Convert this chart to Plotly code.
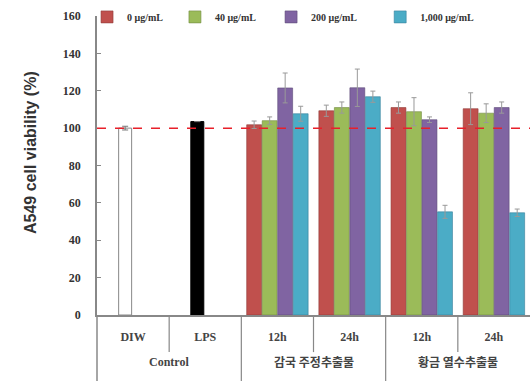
import plotly.graph_objects as go

outer = ["Control", "Control", "감국 주정추출물", "감국 주정추출물", "황금 열수추출물", "황금 열수추출물"]
inner = ["DIW", "LPS", "12h", "24h", "12h", "24h"]
pos = list(range(len(inner)))

control_vals = [100, 103.5]
control_err = [1.0, 0]

series_names = ["0 μg/mL", "40 μg/mL", "200 μg/mL", "1,000 μg/mL"]
series_colors = ["#C0504D", "#9BBB59", "#8064A2", "#4BACC6"]
series_lines = ["#8E3A38", "#71893F", "#5D4977", "#36809A"]
# values for treatment groups (12h, 24h, 12h, 24h)
vals = [
    [101.8, 109.3, 111.0, 110.4],
    [104.0, 111.0, 108.8, 108.0],
    [121.5, 121.6, 104.5, 111.0],
    [107.7, 116.8, 55.2, 54.7],
]
errs = [
    [2.0, 3.0, 3.0, 8.5],
    [2.0, 3.0, 7.5, 5.0],
    [8.0, 10.0, 1.5, 3.0],
    [4.0, 3.0, 3.5, 2.0],
]

serif = "Liberation Serif"
axis_grey = "#888888"
legend_x = [-0.023, 0.180, 0.402, 0.654]

fig = go.Figure()
fig.add_trace(go.Bar(
    x=pos[:2], y=control_vals,
    marker=dict(color=["white", "black"], line=dict(color=[axis_grey, "black"], width=1)),
    error_y=dict(type="data", array=control_err, color="#777777", thickness=1, width=3),
    width=0.18, offset=-0.2, showlegend=False,
))
legend_layout = {}
for i, (name, col, lc, v, e) in enumerate(zip(series_names, series_colors, series_lines, vals, errs)):
    lname = "legend" if i == 0 else f"legend{i + 1}"
    fig.add_trace(go.Bar(
        x=pos[2:], y=v, name="<b>" + name + "</b>", legend=lname,
        marker=dict(color=col, line=dict(color=lc, width=0.6)),
        error_y=dict(type="data", array=e, color="#999999", thickness=1, width=2.5),
    ))
    legend_layout[lname] = dict(x=legend_x[i], y=0.997, xanchor="left", yanchor="middle",
                                orientation="h", itemwidth=30, bgcolor="rgba(0,0,0,0)",
                                font=dict(family=serif, size=10, color="#333"))

# reference line at 100 %
fig.add_shape(type="line", xref="paper", yref="y", x0=0, x1=1, y0=100, y1=100,
              line=dict(color="#E8202A", width=1.5, dash="dash"))
# y-axis extension into label area
fig.add_shape(type="line", xref="paper", yref="paper", x0=0, x1=0, y0=-0.23, y1=0,
              line=dict(color=axis_grey, width=1.5))

# separators and outer group labels
groups = []
for i, g in enumerate(outer):
    if not groups or groups[-1][0] != g:
        groups.append([g, i, i])
    else:
        groups[-1][2] = i
for gi, (g, a, b) in enumerate(groups):
    fam = serif if g.isascii() else "Noto Sans CJK KR"
    fig.add_annotation(x=(a + b) / 2, y=-0.157, xref="x", yref="paper", text="<b>" + g + "</b>",
                       showarrow=False, yanchor="middle",
                       font=dict(family=fam, size=12, color="#444"))
    if gi > 0:
        fig.add_shape(type="line", xref="x", yref="paper", x0=a - 0.5, x1=a - 0.5, y0=-0.23, y1=0,
                      line=dict(color=axis_grey, width=1.2))
    for k in range(a, b):
        fig.add_shape(type="line", xref="x", yref="paper", x0=k + 0.5, x1=k + 0.5, y0=-0.124, y1=0,
                      line=dict(color=axis_grey, width=1.2))

fig.add_annotation(xref="x domain", yref="y domain", x=(30 - 97) / 433, y=(315 - 153) / 299,
                   text="<b>A549 cell viability (%)</b>",
                   showarrow=False, textangle=-90, xanchor="center", yanchor="middle",
                   font=dict(family="Liberation Sans", size=16, color="#333"))

fig.update_layout(
    width=530, height=381,
    margin=dict(l=97, r=0, t=16, b=66),
    paper_bgcolor="white", plot_bgcolor="white",
    barmode="group", bargap=0.14, bargroupgap=0.04,
    xaxis=dict(range=[-0.5, len(inner) - 0.5], tickvals=pos, ticktext=["<b>" + t + "</b>" for t in inner],
               showline=True, linecolor=axis_grey, linewidth=1.5, showgrid=False, zeroline=False,
               ticks="", ticklabelstandoff=10,
               tickfont=dict(family=serif, size=12, color="#444")),
    yaxis=dict(range=[0, 160], dtick=20, showgrid=False, zeroline=False,
               showline=True, linecolor=axis_grey, linewidth=1.5,
               ticks="inside", ticklen=4, tickcolor=axis_grey, ticklabelstandoff=12,
               tickfont=dict(family=serif, size=12, color="#333"),
               tickprefix="<b>", ticksuffix="</b>"),
    **legend_layout,
)
fig.write_html("out.html")
